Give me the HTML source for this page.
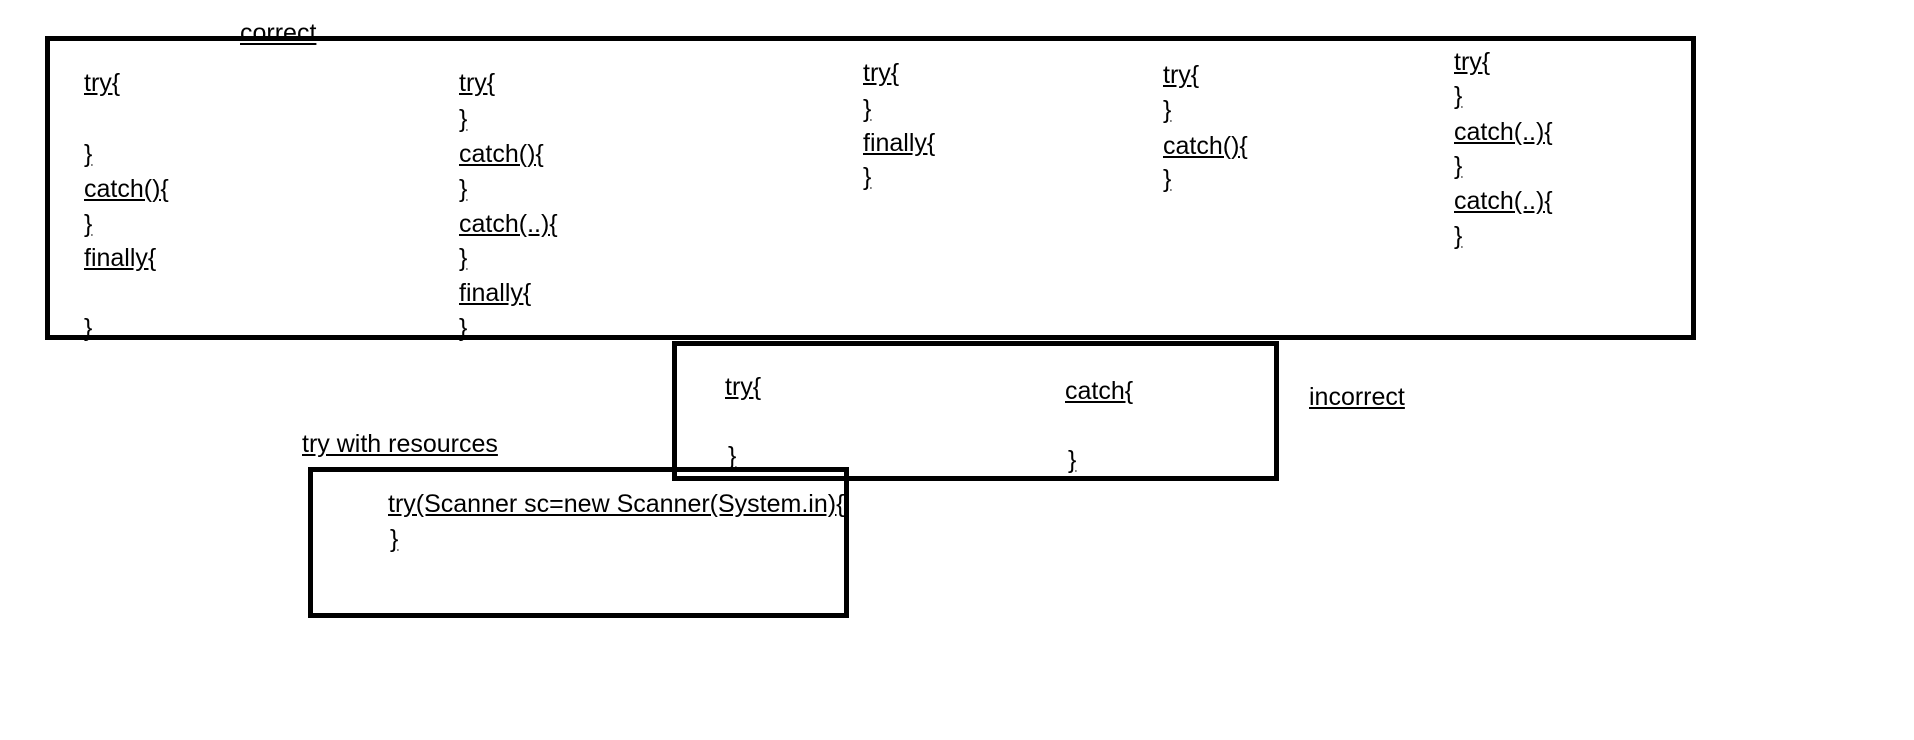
<!DOCTYPE html>
<html><head><style>
body{margin:0;width:1914px;height:740px;background:#fff;position:relative;overflow:hidden;font-family:"Liberation Sans",sans-serif;}
.b{position:absolute;border:5px solid #000;box-sizing:border-box;}
.t{position:absolute;font-size:25px;line-height:28px;text-decoration:underline;color:#000;white-space:nowrap;transform:translateY(-14px);}
</style></head><body>
<div class="b" style="left:45px;top:36px;width:1651px;height:304px"></div>
<div class="b" style="left:672px;top:341px;width:607px;height:140px"></div>
<div class="b" style="left:308px;top:467px;width:541px;height:151px"></div>
<div class="t" style="left:240px;top:33px">correct</div>

<div class="t" style="left:84px;top:83px">try{</div>
<div class="t" style="left:84px;top:154px">}</div>
<div class="t" style="left:84px;top:189px">catch(){</div>
<div class="t" style="left:84px;top:224px">}</div>
<div class="t" style="left:84px;top:258px">finally{</div>
<div class="t" style="left:84px;top:328px">}</div>

<div class="t" style="left:459px;top:83px">try{</div>
<div class="t" style="left:459px;top:119px">}</div>
<div class="t" style="left:459px;top:154px">catch(){</div>
<div class="t" style="left:459px;top:189px">}</div>
<div class="t" style="left:459px;top:224px">catch(..){</div>
<div class="t" style="left:459px;top:258px">}</div>
<div class="t" style="left:459px;top:293px">finally{</div>
<div class="t" style="left:459px;top:328px">}</div>

<div class="t" style="left:863px;top:73px">try{</div>
<div class="t" style="left:863px;top:109px">}</div>
<div class="t" style="left:863px;top:143px">finally{</div>
<div class="t" style="left:863px;top:177px">}</div>

<div class="t" style="left:1163px;top:75px">try{</div>
<div class="t" style="left:1163px;top:110px">}</div>
<div class="t" style="left:1163px;top:146px">catch(){</div>
<div class="t" style="left:1163px;top:179px">}</div>

<div class="t" style="left:1454px;top:62px">try{</div>
<div class="t" style="left:1454px;top:96px">}</div>
<div class="t" style="left:1454px;top:132px">catch(..){</div>
<div class="t" style="left:1454px;top:166px">}</div>
<div class="t" style="left:1454px;top:201px">catch(..){</div>
<div class="t" style="left:1454px;top:236px">}</div>

<div class="t" style="left:725px;top:387px">try{</div>
<div class="t" style="left:728px;top:456px">}</div>
<div class="t" style="left:1065px;top:391px">catch{</div>
<div class="t" style="left:1068px;top:460px">}</div>
<div class="t" style="left:1309px;top:397px">incorrect</div>

<div class="t" style="left:302px;top:444px">try with resources</div>
<div class="t" style="left:388px;top:504px">try(Scanner sc=new Scanner(System.in){</div>
<div class="t" style="left:390px;top:539px">}</div>
</body></html>
